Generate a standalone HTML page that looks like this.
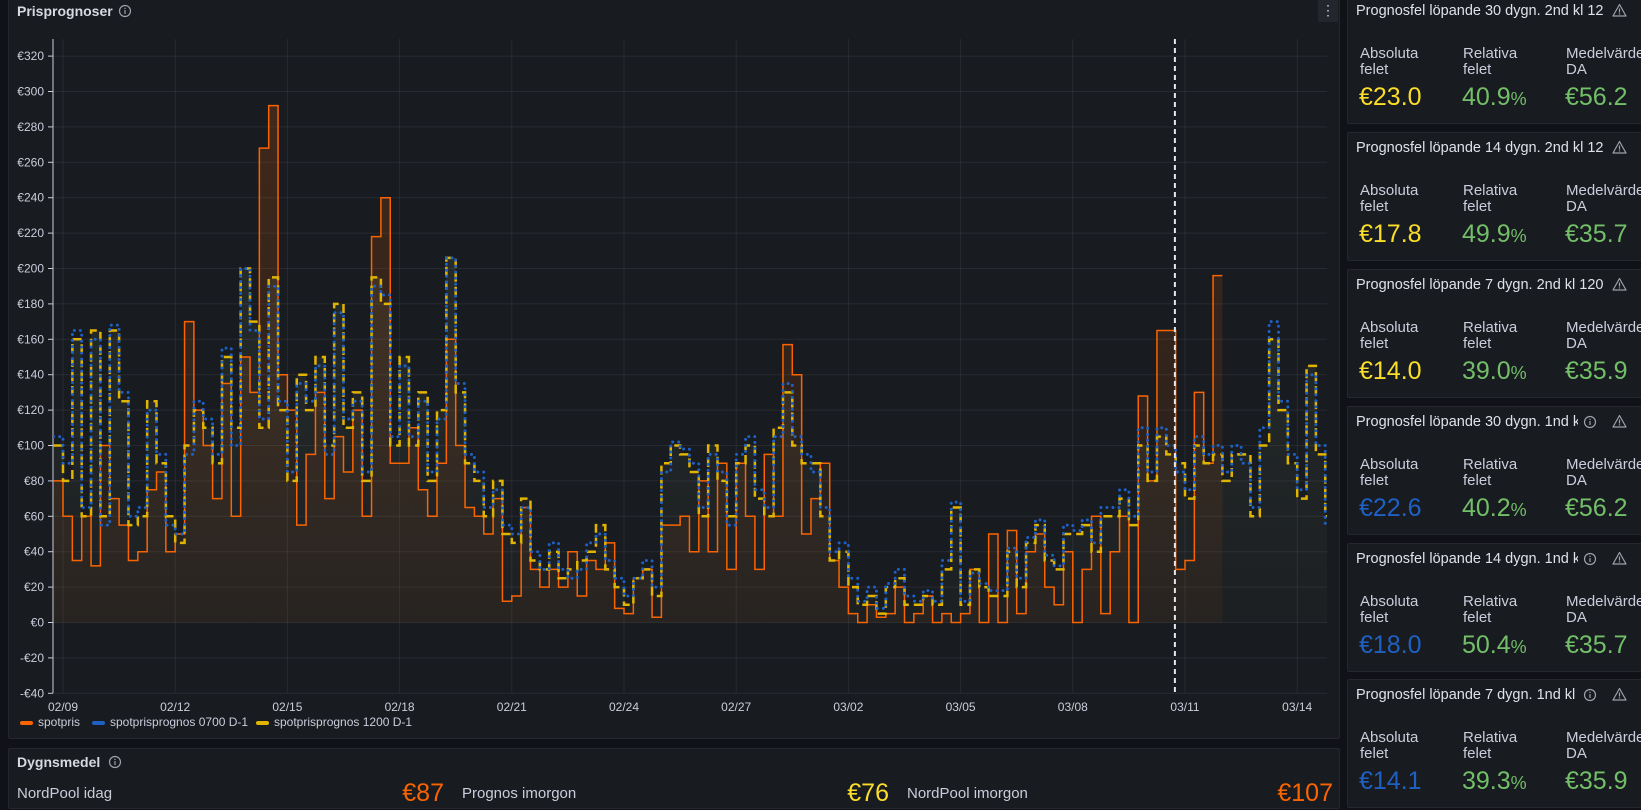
<!DOCTYPE html>
<html><head><meta charset="utf-8">
<style>
*{box-sizing:border-box;margin:0;padding:0}
body{width:1641px;height:810px;background:#111217;font-family:"Liberation Sans",sans-serif;color:#ccccdc;position:relative;overflow:hidden}
.panel{position:absolute;background:#181b1f;border:1px solid #24272d;border-radius:2px}
.ptitle{position:absolute;font-size:14px;font-weight:bold;color:#d8d9e3;white-space:nowrap}
.card .ptitle{left:8px;top:7px;font-weight:normal;color:#e0e1ea;font-size:14.5px}
.lbl{position:absolute;font-size:15px;line-height:16px;color:#ccccdc}
.val{position:absolute;font-size:25px;line-height:26px}
.val small{font-size:18px}
.icon{position:absolute;font-size:13px;color:#9fa1ab}
</style></head>
<body>
<div class="panel" style="left:8px;top:-4px;width:1332px;height:743px"></div>
<div class="ptitle" style="left:17px;top:3px">Prisprognoser</div>
<svg style="position:absolute;left:118px;top:4px" width="14" height="14"><circle cx="7" cy="7" r="5.5" fill="none" stroke="#9fa1ab" stroke-width="1.2"/><rect x="6.4" y="6" width="1.2" height="4" fill="#9fa1ab"/><rect x="6.4" y="3.8" width="1.2" height="1.2" fill="#9fa1ab"/></svg>
<div style="position:absolute;left:1318px;top:0;width:20px;height:22px;background:#23262c;color:#ccccdc;font-size:14px;text-align:center;line-height:20px">⋮</div>

<svg id="chart" style="position:absolute;left:0;top:0" width="1341" height="740"></svg>

<div style="position:absolute;left:20px;top:715px;font-size:12px;color:#ccccdc;white-space:nowrap">
<span style="position:absolute;left:0;top:0"><span style="display:inline-block;width:13px;height:4px;border-radius:2px;background:#fa6400;vertical-align:middle;margin-right:5px"></span>spotpris</span>
<span style="position:absolute;left:72px;top:0"><span style="display:inline-block;width:13px;height:4px;border-radius:2px;background:#1f60c4;vertical-align:middle;margin-right:5px"></span>spotprisprognos 0700 D-1</span>
<span style="position:absolute;left:236px;top:0"><span style="display:inline-block;width:13px;height:4px;border-radius:2px;background:#e0b400;vertical-align:middle;margin-right:5px"></span>spotprisprognos 1200 D-1</span>
</div>

<div class="panel" style="left:8px;top:748px;width:1332px;height:61px"></div>
<div class="ptitle" style="left:17px;top:754px">Dygnsmedel</div>
<svg style="position:absolute;left:108px;top:755px" width="14" height="14"><circle cx="7" cy="7" r="5.5" fill="none" stroke="#9fa1ab" stroke-width="1.2"/><rect x="6.4" y="6" width="1.2" height="4" fill="#9fa1ab"/><rect x="6.4" y="3.8" width="1.2" height="1.2" fill="#9fa1ab"/></svg>
<div class="lbl" style="left:17px;top:786px">NordPool idag</div>
<div class="val" style="right:1197px;top:780px;color:#fa6400">€87</div>
<div class="lbl" style="left:462px;top:786px">Prognos imorgon</div>
<div class="val" style="right:752px;top:780px;color:#fade2a">€76</div>
<div class="lbl" style="left:907px;top:786px">NordPool imorgon</div>
<div class="val" style="right:308px;top:780px;color:#fa6400">€107</div>

<div id="cards"></div>

<script>
// ---- chart data (6-hour steps starting 02/08 18:00) ----
const startDay = -0.25;
const stepDays = 0.25;
const spotValues = [80,
60,35,60,32, 100,70,55,35, 40,75,85,40, 50,170,120,100, 70,135,60,150,
130,268,292,140, 120,55,95,130, 70,105,85,120, 60,218,240,90, 90,110,75,60,
90,160,100,65, 60,50,70,12, 15,65,30,20, 30,20,40,15, 35,30,45,8,
5,25,30,3, 55,55,60,40, 80,40,90,30, 90,60,30,95, 60,157,140,50,
70,90,35,20, 5,0,10,3, 5,20,0,5, 15,0,5,0, 5,30,0,50,
0,52,5,40, 50,20,10,40, 0,30,60,5, 40,60,0,128, 80,165,165,30,
35,130,90,196];
const forecast1200Values = [100,
80,160,60,165, 60,165,125,55, 60,125,90,60, 45,100,120,110, 90,150,110,200,
170,110,195,120, 80,140,120,150, 100,180,110,130, 80,195,180,100, 150,100,130,80,
120,206,130,90, 80,60,80,50, 45,70,35,30, 40,25,30,35, 40,55,30,20,
10,25,30,15, 90,100,95,85, 60,100,80,60, 90,100,70,60, 110,130,100,90,
90,60,35,40, 20,10,15,5, 20,25,10,10, 15,10,30,65, 10,30,20,15,
15,40,20,45, 55,35,30,50, 50,55,40,60, 60,70,55,100, 80,105,95,90,
70,100,90,95, 80,95,95,60, 100,160,120,90, 70,145,95,60];
const forecast0700Values = [105,
90,165,65,160, 55,168,130,60, 65,120,95,55, 50,95,125,115, 95,155,100,200,
165,115,190,125, 85,135,125,145, 95,175,115,125, 85,190,185,105, 145,105,125,85,
115,206,135,95, 85,65,75,55, 50,65,40,30, 45,30,25,30, 45,50,35,25,
15,25,35,20, 85,102,98,90, 65,95,85,55, 95,105,75,65, 105,135,105,95,
85,65,40,45, 25,12,20,8, 22,30,15,12, 18,12,35,68, 12,28,22,18,
18,42,25,48, 58,38,32,55, 52,58,45,65, 65,75,60,110, 85,110,100,85,
75,105,95,100, 85,100,90,65, 110,170,125,95, 75,140,100,55];
const yTicks = [320,300,280,260,240,220,200,180,160,140,120,100,80,60,40,20,0,-20,-40];
const xTickDays = [0,3,6,9,12,15,18,21,24,27,30,33];
const xTickLabels = ["02/09","02/12","02/15","02/18","02/21","02/24","02/27","03/02","03/05","03/08","03/11","03/14"];
const nowDay = 29.73;

const NS = "http://www.w3.org/2000/svg";
const svg = document.getElementById('chart');
const L = 53, R = 1327, T = 39, B = 693;
function X(d){ return 63 + d * 37.4; }
function Y(v){ return 622.5 - v * 1.77; }
function mk(tag, attrs){ const e = document.createElementNS(NS, tag); for (const k in attrs) e.setAttribute(k, attrs[k]); svg.appendChild(e); return e; }

const defs = document.createElementNS(NS,'defs');
defs.innerHTML = '<linearGradient id="gs" x1="0" y1="0" x2="0" y2="1"><stop offset="0" stop-color="#fa6400" stop-opacity="0.18"/><stop offset="1" stop-color="#fa6400" stop-opacity="0.05"/></linearGradient>'+
'<linearGradient id="gf" x1="0" y1="0" x2="0" y2="1"><stop offset="0" stop-color="#a0b890" stop-opacity="0.10"/><stop offset="1" stop-color="#a0b890" stop-opacity="0.03"/></linearGradient>'+
'<clipPath id="pc"><rect x="'+L+'" y="'+T+'" width="'+(R-L)+'" height="'+(B-T)+'"/></clipPath>';
svg.appendChild(defs);

yTicks.forEach(v => {
  const g = mk('line', {x1:L, x2:R, y1:Y(v), y2:Y(v), stroke:'#ccccdc', 'stroke-opacity':0.09, 'stroke-width':1});
  
  
  mk('line', {x1:L-5, x2:L, y1:Y(v), y2:Y(v), stroke:'#ccccdc', 'stroke-width':1});
  const t = mk('text', {x:L-9, y:Y(v)+4, 'text-anchor':'end', 'font-size':12, fill:'#ccccdc', 'font-family':'Liberation Sans, sans-serif'});
  t.textContent = (v < 0 ? '-€' + (-v) : '€' + v);
  
  
});
xTickDays.forEach((d, i) => {
  const g = mk('line', {x1:X(d), x2:X(d), y1:T, y2:B, stroke:'#ccccdc', 'stroke-opacity':0.09, 'stroke-width':1});
  
  
  const t = mk('text', {x:X(d), y:711, 'text-anchor':'middle', 'font-size':12, fill:'#ccccdc', 'font-family':'Liberation Sans, sans-serif'});
  t.textContent = xTickLabels[i];
  
  
});
const ax = mk('line', {x1:L, x2:L, y1:T, y2:B, stroke:'#ccccdc', 'stroke-width':1});



function stepPath(vals){
  let p = '';
  vals.forEach((v, i) => {
    const x0 = X(startDay + i*stepDays), x1 = X(startDay + (i+1)*stepDays);
    p += (i === 0 ? 'M' + x0 + ' ' + Y(v) : 'V' + Y(v)) + 'H' + x1;
  });
  return p;
}
function fillPath(vals){
  const xs = X(startDay);
  return stepPath(vals) + 'V' + Y(0) + 'H' + xs + 'Z';
}
const g = document.createElementNS(NS, 'g'); g.setAttribute('clip-path', 'url(#pc)'); svg.appendChild(g);
function add(tag, attrs){ const e = document.createElementNS(NS, tag); for (const k in attrs) e.setAttribute(k, attrs[k]); g.appendChild(e); return e; }

const f1 = add('path', {d: fillPath(forecast1200Values), fill:'url(#gf)'});


const f2 = add('path', {d: fillPath(spotValues), fill:'url(#gs)'});


const sp = add('path', {d: stepPath(spotValues), fill:'none', stroke:'#fa6400', 'stroke-width':1.5});


const yl = add('path', {d: stepPath(forecast1200Values), fill:'none', stroke:'#e0b400', 'stroke-width':2.5, 'stroke-dasharray':'9 5'});


const bl = add('path', {d: stepPath(forecast0700Values), fill:'none', stroke:'#1f60c4', 'stroke-width':3, 'stroke-dasharray':'0 6', 'stroke-linecap':'round'});



const nl = mk('line', {x1:X(nowDay), x2:X(nowDay), y1:T, y2:B, stroke:'#e6e6ee', 'stroke-width':2, 'stroke-dasharray':'5 4'});



// ---- stat cards ----
const cardTitles = ["Prognosfel löpande 30 dygn. 2nd kl 1200","Prognosfel löpande 14 dygn. 2nd kl 1200","Prognosfel löpande 7 dygn. 2nd kl 1200","Prognosfel löpande 30 dygn. 1nd kl","Prognosfel löpande 14 dygn. 1nd kl 0","Prognosfel löpande 7 dygn. 1nd kl 0"];
const absValues = ["€23.0","€17.8","€14.0","€22.6","€18.0","€14.1"];
const relValues = ["40.9","49.9","39.0","40.2","50.4","39.3"];
const meanValues = ["€56.2","€35.7","€35.9","€56.2","€35.7","€35.9"];
const cardTops = [-5,132,269,406,543,679];
const cards = document.getElementById('cards');
cardTitles.forEach((t, i) => {
  const c = document.createElement('div');
  c.className = 'panel card';
  c.style.cssText = 'left:1347px;top:' + cardTops[i] + 'px;width:300px;height:129px;';
  
  
  const absCol = i < 3 ? '#fade2a' : '#1f60c4';
  const info = i >= 3 ? '<svg style="position:absolute;left:235px;top:8px" width="14" height="14"><circle cx="7" cy="7" r="5.5" fill="none" stroke="#9fa1ab" stroke-width="1.2"/><rect x="6.4" y="6" width="1.2" height="4" fill="#9fa1ab"/><rect x="6.4" y="3.8" width="1.2" height="1.2" fill="#9fa1ab"/></svg>' : '';
  c.innerHTML =
    '<div class="ptitle" style="max-width:' + (i>=3?222:247) + 'px;overflow:hidden">' + t + '</div>' + info +
    '<svg style="position:absolute;left:264px;top:7px" width="15" height="14"><path d="M7.5 1.5 L14 13 L1 13 Z" fill="none" stroke="#9fa1ab" stroke-width="1.2" stroke-linejoin="round"/><rect x="6.9" y="5.5" width="1.2" height="4" fill="#9fa1ab"/><rect x="6.9" y="10.3" width="1.2" height="1.2" fill="#9fa1ab"/></svg>' +
    '<div class="lbl" style="left:12px;top:50px">Absoluta<br>felet</div>' +
    '<div class="lbl" style="left:115px;top:50px">Relativa<br>felet</div>' +
    '<div class="lbl" style="left:218px;top:50px;white-space:nowrap">Medelvärde<br>DA</div>' +
    '<div class="val" style="left:11px;top:88px;color:' + absCol + '">' + absValues[i] + '</div>' +
    '<div class="val" style="left:114px;top:88px;color:#73bf69">' + relValues[i] + '<small>%</small></div>' +
    '<div class="val" style="left:217px;top:88px;color:#73bf69">' + meanValues[i] + '</div>';
  cards.appendChild(c);
});
</script>
</body></html>
